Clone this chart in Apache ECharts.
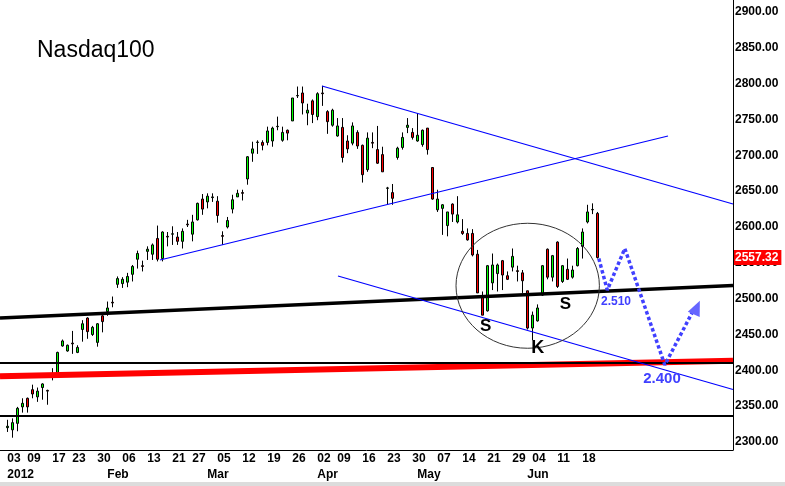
<!DOCTYPE html>
<html>
<head>
<meta charset="utf-8">
<script src="https://cdn.jsdelivr.net/npm/echarts@6/dist/echarts.min.js"></script>
<style>
html, body { margin: 0; padding: 0; background: #fff; }
#chart { width: 785px; height: 486px; }
</style>
</head>
<body>
<div id="chart"></div>
<script>
// Nasdaq100 daily candles, 03 Jan 2012 .. 21 Jun 2012 (index = trading day)
const opens = [
  2320, 2317, 2326, 2349, 2361, 2373, 2363, 2376, 2372, 2395,
  2395, 2434, 2427, 2438, 2425, 2457, 2473, 2450, 2439, 2476,
  2482, 2495, 2520, 2521, 2523, 2534, 2555, 2546, 2566, 2562,
  2584, 2556, 2587, 2590, 2586, 2580, 2604, 2590, 2610, 2639,
  2635, 2641, 2636, 2588, 2600, 2625, 2642, 2648, 2667, 2703,
  2718, 2718, 2718, 2720, 2740, 2721, 2735, 2748, 2783, 2787,
  2759, 2776, 2754, 2787, 2761, 2742, 2727, 2739, 2720, 2717,
  2732, 2714, 2680, 2718, 2708, 2701, 2654, 2648, 2697, 2711,
  2739, 2732, 2720, 2715, 2738, 2683, 2624, 2626, 2602, 2632,
  2607, 2594, 2591, 2591, 2562, 2504, 2483, 2522, 2535, 2553,
  2532, 2544, 2539, 2536, 2511, 2459, 2469, 2505, 2569, 2530,
  2579, 2524, 2541, 2530, 2546, 2573, 2607, 2624, 2619
];
const closes = [
  2322, 2327, 2347, 2354, 2349, 2367, 2371, 2381, 2371, 2393,
  2425, 2441, 2435, 2437, 2432, 2465, 2454, 2460, 2465, 2468,
  2487, 2494, 2528, 2527, 2531, 2545, 2563, 2545, 2569, 2575,
  2555, 2593, 2586, 2590.5, 2580, 2594, 2603, 2607, 2633, 2625,
  2643, 2642, 2616, 2587, 2609, 2638, 2647, 2647, 2698, 2709,
  2718.5, 2714, 2734, 2738, 2740.5, 2732, 2731, 2780, 2783.5, 2773,
  2763, 2757, 2786, 2786, 2747, 2763, 2741, 2697, 2709, 2741,
  2713, 2673, 2724, 2717, 2689, 2677, 2654.5, 2640, 2710, 2725,
  2742, 2725, 2728, 2735, 2708, 2639, 2639, 2631, 2621, 2618,
  2617, 2591, 2582, 2561, 2508, 2477, 2546, 2547, 2547, 2533,
  2527, 2559, 2538, 2525, 2459, 2477, 2487, 2546, 2530, 2560,
  2517, 2546, 2527, 2540, 2570, 2593, 2621, 2624.5, 2557.32
];
const lows = [
  2314, 2306, 2315, 2341, 2341, 2361, 2356, 2359, 2352, 2386,
  2394, 2433, 2426, 2423, 2424, 2440, 2444, 2448, 2433, 2453,
  2476, 2488, 2515, 2515, 2516, 2524, 2542, 2538, 2554, 2554,
  2552, 2552, 2573, 2575, 2575, 2570, 2600, 2580, 2609, 2617,
  2626, 2635, 2606, 2575, 2598, 2619, 2642, 2637, 2659, 2691,
  2702, 2707, 2714, 2712, 2735, 2719, 2721, 2748, 2780, 2757,
  2742, 2745, 2749, 2769, 2730, 2740, 2726, 2690, 2703, 2714,
  2709, 2662, 2677, 2710, 2688, 2677, 2631, 2631, 2694, 2708,
  2731, 2722, 2719, 2712, 2701, 2638, 2621, 2589, 2587, 2607,
  2605, 2589, 2581, 2559, 2508, 2477, 2482, 2512, 2510, 2512,
  2526, 2538, 2524, 2508, 2457, 2442, 2468, 2504, 2527, 2524,
  2515, 2522, 2526, 2528, 2545, 2556, 2605, 2618, 2556
];
const highs = [
  2331, 2333, 2349, 2361, 2362, 2380, 2376, 2382, 2373, 2403,
  2426, 2443, 2436, 2455, 2435, 2470, 2474, 2462, 2466, 2477,
  2496, 2503, 2531, 2530, 2536, 2547, 2567, 2553, 2573, 2577,
  2602, 2594, 2593, 2601, 2593, 2598, 2610, 2617, 2634, 2646,
  2647, 2647, 2643, 2594, 2614, 2645, 2652, 2652, 2699, 2719,
  2721, 2721, 2740, 2740, 2754, 2740, 2736, 2780, 2796, 2796,
  2772, 2778, 2788, 2797, 2763, 2765, 2752, 2752, 2728, 2746,
  2735, 2715, 2732, 2732, 2741, 2712, 2656, 2660, 2712, 2732,
  2752, 2738, 2759, 2736, 2738, 2683, 2652, 2632, 2621, 2633,
  2643, 2611, 2598, 2597, 2568, 2510, 2547, 2563, 2549, 2554,
  2538, 2570, 2546, 2540, 2511, 2482, 2492, 2547, 2570, 2561,
  2580, 2547, 2556, 2546, 2572, 2598, 2631, 2633, 2621
];

// x axis tick labels (trading-day index -> label)
const dayTickIdx = [0, 4, 9, 13, 18, 23, 28, 33, 37, 42, 47, 52, 57, 62, 66, 71, 76, 81, 86, 91, 96, 101, 105, 110, 115];
const dayTickLabels = ['03', '09', '17', '23', '30', '06', '13', '21', '27', '05', '12', '19', '26', '02', '09', '16', '23', '30', '07', '14', '21', '29', '04', '11', '18'];
const monthTickIdx = [0, 20, 40, 62, 82, 104];
const monthTickLabels = ['2012', 'Feb', 'Mar', 'Apr', 'May', 'Jun'];
const priceTicks = [2300, 2350, 2400, 2450, 2500, 2550, 2600, 2650, 2700, 2750, 2800, 2850, 2900];

// drawn trend lines, [trading-day index, price]
const redSupport = [[-1.46, 2391.7], [145.14, 2413.3]];
const blackLevel = [[-1.46, 2410.2], [145.14, 2410.2]];
const blackLow = [[-1.46, 2336.3], [145.14, 2336.3]];
const neckline = [[-1.46, 2473.0], [145.14, 2518.4]];
const blueRising = [[30.54, 2554.0], [132.14, 2727.0]];
const blueUpper = [[62.94, 2796.7], [145.14, 2632.1]];
const blueLower = [[66.14, 2531.6], [145.14, 2373.3]];
// projected path
const projection = [[118.3, 2556], [120.0, 2512], [123.5, 2570], [131.5, 2407.5], [136.9, 2479.6]];
const arrowHead = [[137.9, 2487.5]];
// ellipse round the head and shoulders: centre, radii
const ellipseCentre = [104.08, 2518.0];
const ellipseRadii = [14.34, 87.2];

const lastClose = closes[closes.length - 1];
const xMin = -1.46, xMax = 145.14;
const FONT = 'Liberation Sans, Arial, sans-serif';

const candles = opens.map((o, i) => [i, o, closes[i], lows[i], highs[i]]);

function trend(data, color, width, z, type) {
  return {
    type: 'line',
    data: data,
    xAxisIndex: 0,
    yAxisIndex: 0,
    symbol: 'none',
    silent: true,
    z: z,
    lineStyle: { color: color, width: width, type: type || 'solid', cap: 'butt' },
    animation: false
  };
}

var chart = echarts.init(document.getElementById('chart'), null, { renderer: 'canvas' });

var option = {
  animation: false,
  backgroundColor: '#fff',
  title: {
    text: 'Nasdaq100',
    left: 37,
    top: 39,
    padding: 0,
    textStyle: { fontFamily: FONT, fontSize: 23, fontWeight: 'normal', color: '#000' }
  },
  grid: { left: 0, right: 52, top: 0, bottom: 36 },
  xAxis: [
    {
      type: 'value',
      min: xMin,
      max: xMax,
      position: 'bottom',
      splitLine: { show: false },
      axisLine: { show: true, onZero: false, lineStyle: { color: '#000', width: 1 } },
      axisTick: { show: false },
      axisLabel: {
        customValues: dayTickIdx,
        align: 'left',
        margin: 3,
        color: '#000',
        fontFamily: FONT,
        fontSize: 12,
        fontWeight: 'bold',
        formatter: v => dayTickLabels[dayTickIdx.indexOf(v)]
      }
    },
    {
      type: 'value',
      min: xMin,
      max: xMax,
      position: 'bottom',
      splitLine: { show: false },
      axisLine: { show: false, onZero: false },
      axisTick: { show: false },
      axisLabel: {
        customValues: monthTickIdx,
        align: 'left',
        margin: 19,
        color: '#000',
        fontFamily: FONT,
        fontSize: 12,
        fontWeight: 'bold',
        formatter: v => monthTickLabels[monthTickIdx.indexOf(v)]
      }
    }
  ],
  yAxis: {
    type: 'value',
    position: 'right',
    min: 2288.84,
    max: 2916.74,
    splitLine: { show: false },
    axisLine: { show: true, onZero: false, lineStyle: { color: '#000', width: 1 } },
    axisTick: { show: false },
    axisLabel: {
      customValues: priceTicks,
      margin: 2,
      color: '#000',
      fontFamily: FONT,
      fontSize: 12,
      fontWeight: 'bold',
      formatter: v => v.toFixed(2)
    }
  },
  series: [
    {
      type: 'candlestick',
      data: candles,
      encode: { x: 0, y: [1, 2, 3, 4] },
      barWidth: 2,
      z: 2,
      itemStyle: {
        color: '#00ff00',
        color0: '#ff0000',
        borderColor: '#000',
        borderColor0: '#000',
        borderWidth: 1
      },
      markLine: {
        silent: true,
        symbol: ['none', 'none'],
        lineStyle: { color: 'rgba(0,0,0,0)', width: 0 },
        label: {
          position: 'end',
          distance: 1,
          formatter: () => lastClose.toFixed(2),
          backgroundColor: '#ff0000',
          color: '#fff',
          fontFamily: FONT,
          fontSize: 12,
          fontWeight: 'bold',
          padding: [2, 3, 1, 1]
        },
        data: [{ yAxis: lastClose }]
      }
    },
    trend(blackLow, '#000', 2, 3),
    trend(redSupport, '#ff0000', 6, 3),
    trend(blackLevel, '#000', 2, 4),
    trend(neckline, '#000', 3.5, 4),
    trend(blueRising, '#0000ff', 1.2, 4),
    trend(blueUpper, '#0000ff', 1.2, 4),
    trend(blueLower, '#0000ff', 1.2, 4),
    trend(projection, '#4040ff', 3.5, 5, [3.5, 2.5]),
    {
      type: 'scatter',
      data: arrowHead,
      symbol: 'triangle',
      symbolSize: [13, 15],
      symbolRotate: -24,
      silent: true,
      z: 5,
      itemStyle: { color: '#4040ff' }
    }
  ]
};

chart.setOption(option);

// ellipse and text notes placed from data coordinates
var c = chart.convertToPixel({ gridIndex: 0 }, ellipseCentre);
var e = chart.convertToPixel({ gridIndex: 0 }, [ellipseCentre[0] + ellipseRadii[0], ellipseCentre[1] - ellipseRadii[1]]);

function note(text, x, y, size, color) {
  return {
    type: 'text',
    x: x,
    y: y,
    z: 10,
    style: {
      text: text,
      fill: color || '#000',
      font: 'bold ' + size + 'px ' + FONT,
      textAlign: 'center',
      textVerticalAlign: 'middle'
    }
  };
}

chart.setOption({
  graphic: [
    {
      type: 'ellipse',
      z: 6,
      shape: { cx: c[0], cy: c[1], rx: e[0] - c[0], ry: e[1] - c[1] },
      style: { fill: 'none', stroke: '#333', lineWidth: 1 }
    },
    note('S', 485.7, 326.7, 17),
    note('K', 537.8, 348.3, 18),
    note('S', 565.3, 304, 17),
    note('2.510', 616, 301.5, 12, '#4040ff'),
    note('2.400', 662, 379, 15, '#4040ff'),
    {
      type: 'rect',
      z: 10,
      shape: { x: 0, y: 482, width: 785, height: 4 },
      style: { fill: '#dcdcdc' }
    }
  ]
});

window.addEventListener('resize', chart.resize);
</script>
</body>
</html>
